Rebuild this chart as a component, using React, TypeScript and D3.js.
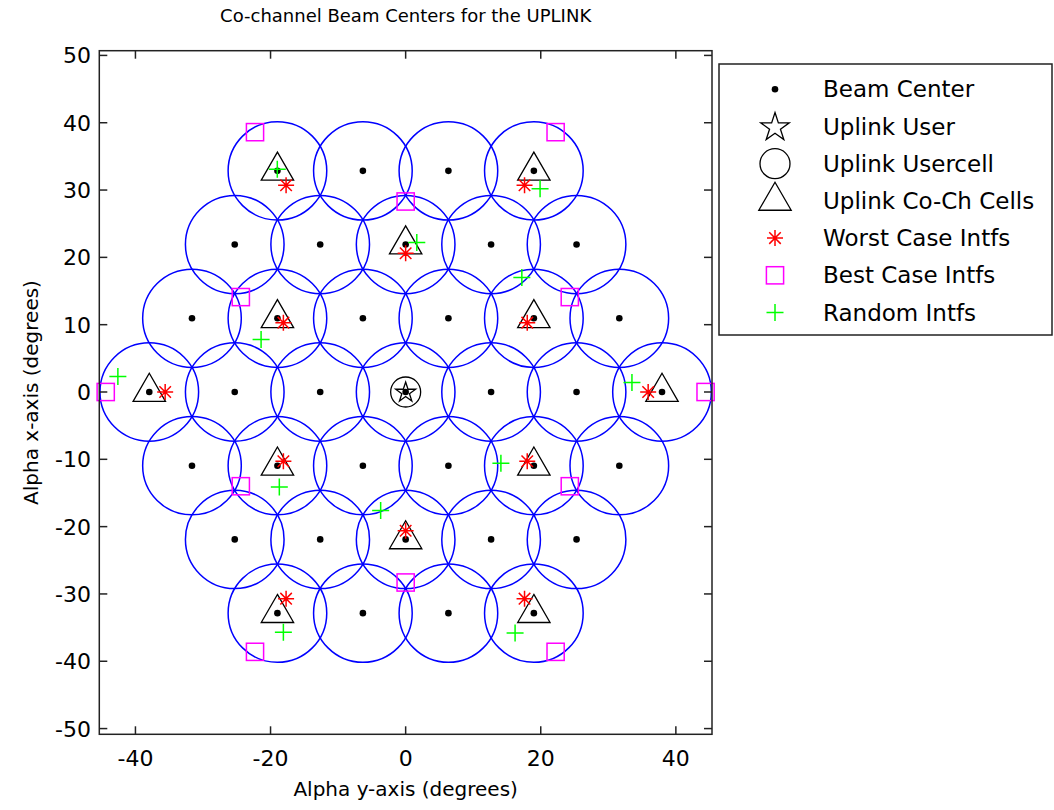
import React from 'react';
import * as d3 from 'd3';

const TITLE = 'Co-channel Beam Centers for the UPLINK';
const X_LABEL = 'Alpha y-axis (degrees)';
const Y_LABEL = 'Alpha x-axis (degrees)';
const X_TICKS = [-40, -20, 0, 20, 40];
const Y_TICKS = [-50, -40, -30, -20, -10, 0, 10, 20, 30, 40, 50];
const X_DOMAIN = [-45.35, 45.35];
const Y_DOMAIN = [-50.85, 50.7];

// beam centers, row by row
const BEAM_ROW_Y = [32.85, 21.9, 10.95, 0, -10.95, -21.9, -32.85];
const BEAM_ROW_X = [
  [-18.98, -6.33, 6.33, 18.98],
  [-25.3, -12.65, 0, 12.65, 25.3],
  [-31.63, -18.98, -6.33, 6.33, 18.98, 31.63],
  [-37.95, -25.3, -12.65, 0, 12.65, 25.3, 37.95],
  [-31.63, -18.98, -6.33, 6.33, 18.98, 31.63],
  [-25.3, -12.65, 0, 12.65, 25.3],
  [-18.98, -6.33, 6.33, 18.98],
];
const BEAM_RADIUS = 7.3;

const USER_X = [0];
const USER_Y = [0];

const COCH_X = [-18.98, 18.98, 0, -18.98, 18.98, -37.95, 37.95, -18.98, 18.98, 0, -18.98, 18.98];
const COCH_Y = [32.85, 32.85, 21.9, 10.95, 10.95, 0, 0, -10.95, -10.95, -21.9, -32.85, -32.85];

const WORST_X = [-17.7, 17.6, 0, -18.1, 18.0, -35.6, 35.9, -18.1, 18.0, 0, -17.7, 17.6];
const WORST_Y = [30.7, 30.7, 20.6, 10.3, 10.3, 0, 0, -10.3, -10.3, -20.6, -30.7, -30.7];

const BEST_X = [-22.3, 22.2, 0, -24.4, 24.3, -44.4, 44.4, -24.4, 24.3, 0, -22.3, 22.2];
const BEST_Y = [38.6, 38.6, 28.3, 14.1, 14.1, 0, 0, -14.0, -14.0, -28.3, -38.6, -38.6];

const RANDOM_X = [-19.0, 19.9, 1.65, 17.2, -21.4, -42.6, 33.5, 14.1, -18.7, -3.7, -18.1, 16.2];
const RANDOM_Y = [33.1, 30.2, 22.2, 17.0, 7.8, 2.3, 1.4, -10.6, -14.1, -17.6, -35.7, -35.8];

const LEGEND_LABELS = [
  'Beam Center',
  'Uplink User',
  'Uplink Usercell',
  'Uplink Co-Ch Cells',
  'Worst Case Intfs',
  'Best Case Intfs',
  'Random Intfs',
];

const FONT = '"DejaVu Sans", Arial, sans-serif';
const AX = '#222';

function starPath(cx: number, cy: number, R: number) {
  const r = R * 0.382;
  const p = d3.path();
  for (let i = 0; i < 10; i++) {
    const a = -Math.PI / 2 + (i * Math.PI) / 5;
    const rr = i % 2 === 0 ? R : r;
    const x = cx + rr * Math.cos(a);
    const y = cy + rr * Math.sin(a);
    if (i === 0) p.moveTo(x, y);
    else p.lineTo(x, y);
  }
  p.closePath();
  return p.toString();
}

function triPath(cx: number, cy: number, R: number) {
  const p = d3.path();
  p.moveTo(cx, cy - R);
  p.lineTo(cx + R * 0.866, cy + R * 0.5);
  p.lineTo(cx - R * 0.866, cy + R * 0.5);
  p.closePath();
  return p.toString();
}

function asteriskPath(cx: number, cy: number, r: number) {
  const d = r * 0.72;
  return `M${cx - r},${cy}H${cx + r}M${cx},${cy - r}V${cy + r}M${cx - d},${cy - d}L${cx + d},${cy + d}M${cx - d},${cy + d}L${cx + d},${cy - d}`;
}

function plusPath(cx: number, cy: number, r: number) {
  return `M${cx - r},${cy}H${cx + r}M${cx},${cy - r}V${cy + r}`;
}

export default function App() {
  const x = d3.scaleLinear().domain(X_DOMAIN).range([99.3, 712]);
  const y = d3.scaleLinear().domain(Y_DOMAIN).range([734.3, 50.7]);
  const [x0, x1] = x.range();
  const [y0, y1] = y.range();
  const tickLen = 8;

  const beams: { bx: number; by: number }[] = [];
  BEAM_ROW_Y.forEach((ry, i) => BEAM_ROW_X[i].forEach((rx) => beams.push({ bx: rx, by: ry })));

  const rx = x(BEAM_RADIUS) - x(0);
  const ry = y(0) - y(BEAM_RADIUS);

  const legendX = 775;
  const legendTextX = 823;
  const legendY0 = 89.3;
  const legendStep = 37.2;

  const legendMarker = (i: number, cy: number) => {
    switch (i) {
      case 0:
        return <circle cx={legendX} cy={cy} r={3.3} fill="#000" />;
      case 1:
        return <path d={starPath(legendX, cy + 1, 15)} fill="none" stroke="#000" strokeWidth={1.3} />;
      case 2:
        return <circle cx={legendX} cy={cy} r={15} fill="none" stroke="#000" strokeWidth={1.3} />;
      case 3:
        return <path d={triPath(legendX, cy, 18.7)} fill="none" stroke="#000" strokeWidth={1.3} />;
      case 4:
        return <path d={asteriskPath(legendX, cy, 8)} fill="none" stroke="#ff0000" strokeWidth={1.5} />;
      case 5:
        return (
          <rect x={legendX - 8.6} y={cy - 8.6} width={17.2} height={17.2} fill="none" stroke="#ff00ff" strokeWidth={1.5} />
        );
      default:
        return <path d={plusPath(legendX, cy, 8.5)} fill="none" stroke="#00ff00" strokeWidth={1.5} />;
    }
  };

  return (
    <svg
      width={1054}
      height={810}
      style={{ position: 'absolute', left: 0, top: 0, background: '#fff' }}
      fontFamily={FONT}
    >
      <rect x={0} y={0} width={1054} height={810} fill="#fff" />
      {/* title */}
      <text x={(x0 + x1) / 2} y={22} textAnchor="middle" fontSize={18} fill="#000">
        {TITLE}
      </text>

      {/* beam circles */}
      <g fill="none" stroke="#0000ff" strokeWidth={1.5}>
        {beams.map((b, i) => (
          <ellipse key={i} cx={x(b.bx)} cy={y(b.by)} rx={rx} ry={ry} />
        ))}
      </g>
      {/* beam centers */}
      <g fill="#000">
        {beams.map((b, i) => (
          <circle key={i} cx={x(b.bx)} cy={y(b.by)} r={3.3} />
        ))}
      </g>
      {/* uplink user */}
      {USER_X.map((ux, i) => (
        <g key={i} fill="none" stroke="#000" strokeWidth={1.3}>
          <path d={starPath(x(ux), y(USER_Y[i]) + 0.5, 10.5)} />
          <circle cx={x(ux)} cy={y(USER_Y[i])} r={15} />
        </g>
      ))}
      {/* co-channel cells */}
      <g fill="none" stroke="#000" strokeWidth={1.3}>
        {COCH_X.map((cx, i) => (
          <path key={i} d={triPath(x(cx), y(COCH_Y[i]), 18.7)} />
        ))}
      </g>
      {/* worst */}
      <g fill="none" stroke="#ff0000" strokeWidth={1.5}>
        {WORST_X.map((wx, i) => (
          <path key={i} d={asteriskPath(x(wx), y(WORST_Y[i]), 8)} />
        ))}
      </g>
      {/* best */}
      <g fill="none" stroke="#ff00ff" strokeWidth={1.5}>
        {BEST_X.map((bx, i) => (
          <rect key={i} x={x(bx) - 8.6} y={y(BEST_Y[i]) - 8.6} width={17.2} height={17.2} />
        ))}
      </g>
      {/* random */}
      <g fill="none" stroke="#00ff00" strokeWidth={1.5}>
        {RANDOM_X.map((gx, i) => (
          <path key={i} d={plusPath(x(gx), y(RANDOM_Y[i]), 8.5)} />
        ))}
      </g>

      {/* axes box */}
      <rect x={x0} y={y1} width={x1 - x0} height={y0 - y1} fill="none" stroke={AX} strokeWidth={1.5} />
      <g stroke={AX} strokeWidth={1.5}>
        {X_TICKS.map((t) => (
          <g key={t}>
            <line x1={x(t)} x2={x(t)} y1={y0} y2={y0 - tickLen} />
            <line x1={x(t)} x2={x(t)} y1={y1} y2={y1 + tickLen} />
          </g>
        ))}
        {Y_TICKS.map((t) => (
          <g key={t}>
            <line x1={x0} x2={x0 + tickLen} y1={y(t)} y2={y(t)} />
            <line x1={x1} x2={x1 - tickLen} y1={y(t)} y2={y(t)} />
          </g>
        ))}
      </g>
      <g fontSize={22} fill="#000">
        {X_TICKS.map((t) => (
          <text key={t} x={x(t)} y={766} textAnchor="middle">
            {t}
          </text>
        ))}
        {Y_TICKS.map((t) => (
          <text key={t} x={91} y={y(t) + 8} textAnchor="end">
            {t}
          </text>
        ))}
      </g>
      <text x={(x0 + x1) / 2} y={796} textAnchor="middle" fontSize={20} fill="#000">
        {X_LABEL}
      </text>
      <text
        transform={`translate(38,${(y0 + y1) / 2}) rotate(-90)`}
        textAnchor="middle"
        fontSize={20}
        fill="#000"
      >
        {Y_LABEL}
      </text>

      {/* legend */}
      <rect x={719} y={64} width={333} height={271} fill="#fff" stroke={AX} strokeWidth={1.5} />
      {LEGEND_LABELS.map((lab, i) => {
        const cy = legendY0 + i * legendStep;
        return (
          <g key={lab}>
            {legendMarker(i, cy)}
            <text x={legendTextX} y={cy + 8} fontSize={23} fill="#000">
              {lab}
            </text>
          </g>
        );
      })}
    </svg>
  );
}
